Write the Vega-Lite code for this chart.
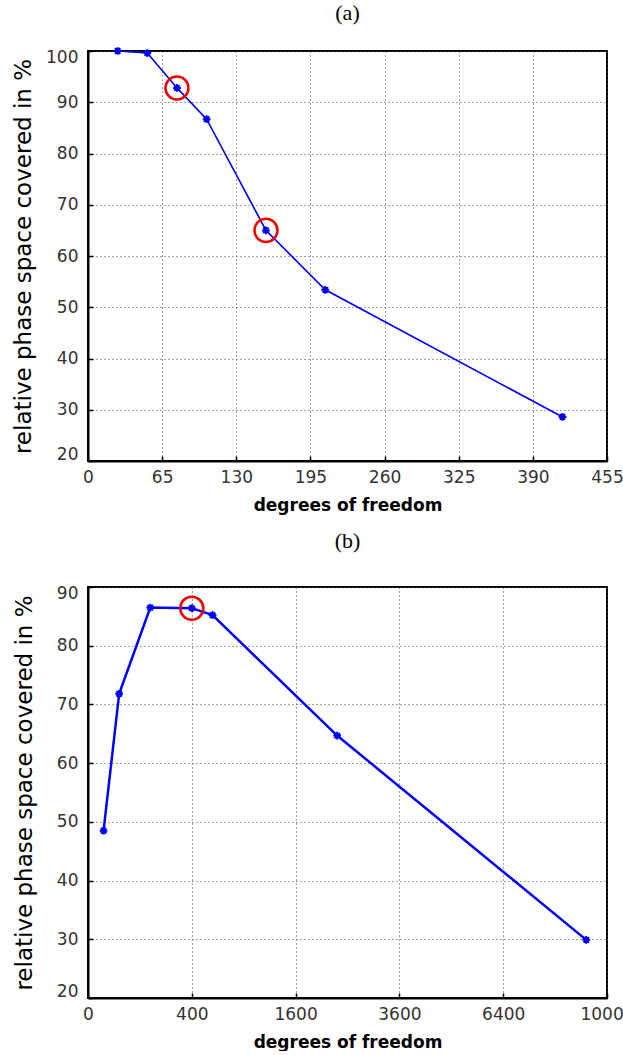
{
  "$schema": "https://vega.github.io/schema/vega-lite/v6.json",
  "padding": {"left": 10, "top": 1, "right": -6, "bottom": 0},
  "background": "white",
  "spacing": 15,
  "config": {
    "view": {"stroke": "black", "strokeWidth": 2},
    "axis": {
      "domainColor": "black", "domainWidth": 2,
      "grid": true, "gridColor": "#444444", "gridDash": [1, 3], "gridWidth": 1, "gridOpacity": 1,
      "ticks": true, "tickSize": -5, "tickColor": "black", "tickWidth": 1.5,
      "labelFont": "DejaVu Sans", "labelFontSize": 17, "labelColor": "#333333",
      "titleFont": "DejaVu Sans", "titleColor": "black"
    },
    "axisX": {"labelPadding": 13, "titleFontSize": 17, "titleFontWeight": "bold", "titlePadding": 12, "labelFlush": false},
    "axisY": {"labelPadding": 15, "titleFontSize": 23, "titleFontWeight": "normal", "labelFlush": true, "labelFlushOffset": 2},
    "title": {"font": "Liberation Serif", "fontSize": 22, "fontWeight": "normal", "color": "black", "anchor": "middle"}
  },
  "vconcat": [
    {
      "title": {"text": "(a)", "offset": 18},
      "width": 519,
      "height": 410,
      "data": {"values": [
        {"dof": 26, "coverage": 100.0, "marked": false},
        {"dof": 52, "coverage": 99.6, "marked": false},
        {"dof": 78, "coverage": 92.8, "marked": true},
        {"dof": 104, "coverage": 86.7, "marked": false},
        {"dof": 156, "coverage": 65.0, "marked": true},
        {"dof": 208, "coverage": 53.4, "marked": false},
        {"dof": 416, "coverage": 28.6, "marked": false}
      ]},
      "encoding": {
        "x": {"field": "dof", "type": "quantitative",
              "scale": {"domain": [0, 455], "nice": false, "zero": true},
              "axis": {"values": [0, 65, 130, 195, 260, 325, 390, 455], "title": "degrees of freedom"}},
        "y": {"field": "coverage", "type": "quantitative",
              "scale": {"domain": [20, 100], "nice": false, "zero": false},
              "axis": {"values": [20, 30, 40, 50, 60, 70, 80, 90, 100], "title": "relative phase space covered in %", "titleX": -65, "titleBaseline": "middle"}}
      },
      "layer": [
        {"mark": {"type": "line", "color": "#0000ff", "strokeWidth": 1.6}},
        {"mark": {"type": "point", "shape": "M-1,0L1,0M0,-1L0,1M-0.7,-0.7L0.7,0.7M-0.7,0.7L0.7,-0.7", "filled": false, "color": "#0000ff", "strokeWidth": 2, "size": 60, "opacity": 1}},
        {"transform": [{"filter": "datum.marked"}],
         "mark": {"type": "point", "shape": "circle", "filled": false, "color": "#ee0000", "strokeWidth": 2.5, "size": 530, "opacity": 1}}
      ]
    },
    {
      "title": {"text": "(b)", "offset": 31},
      "width": 519,
      "height": 411,
      "data": {"values": [
        {"dof": 9, "coverage": 48.5, "marked": false},
        {"dof": 36, "coverage": 71.8, "marked": false},
        {"dof": 144, "coverage": 86.5, "marked": false},
        {"dof": 400, "coverage": 86.4, "marked": true},
        {"dof": 576, "coverage": 85.2, "marked": false},
        {"dof": 2304, "coverage": 64.7, "marked": false},
        {"dof": 9216, "coverage": 29.9, "marked": false}
      ]},
      "encoding": {
        "x": {"field": "dof", "type": "quantitative",
              "scale": {"type": "sqrt", "domain": [0, 10000], "nice": false, "zero": true},
              "axis": {"values": [0, 400, 1600, 3600, 6400, 10000], "format": "d", "title": "degrees of freedom"}},
        "y": {"field": "coverage", "type": "quantitative",
              "scale": {"domain": [20, 90], "nice": false, "zero": false},
              "axis": {"values": [20, 30, 40, 50, 60, 70, 80, 90], "title": "relative phase space covered in %", "titleX": -64, "titleBaseline": "middle"}}
      },
      "layer": [
        {"mark": {"type": "line", "color": "#0000ff", "strokeWidth": 2.5}},
        {"mark": {"type": "point", "shape": "M-1,0L1,0M0,-1L0,1M-0.7,-0.7L0.7,0.7M-0.7,0.7L0.7,-0.7", "filled": false, "color": "#0000ff", "strokeWidth": 2, "size": 60, "opacity": 1}},
        {"transform": [{"filter": "datum.marked"}],
         "mark": {"type": "point", "shape": "circle", "filled": false, "color": "#ee0000", "strokeWidth": 2.5, "size": 530, "opacity": 1}}
      ]
    }
  ]
}
